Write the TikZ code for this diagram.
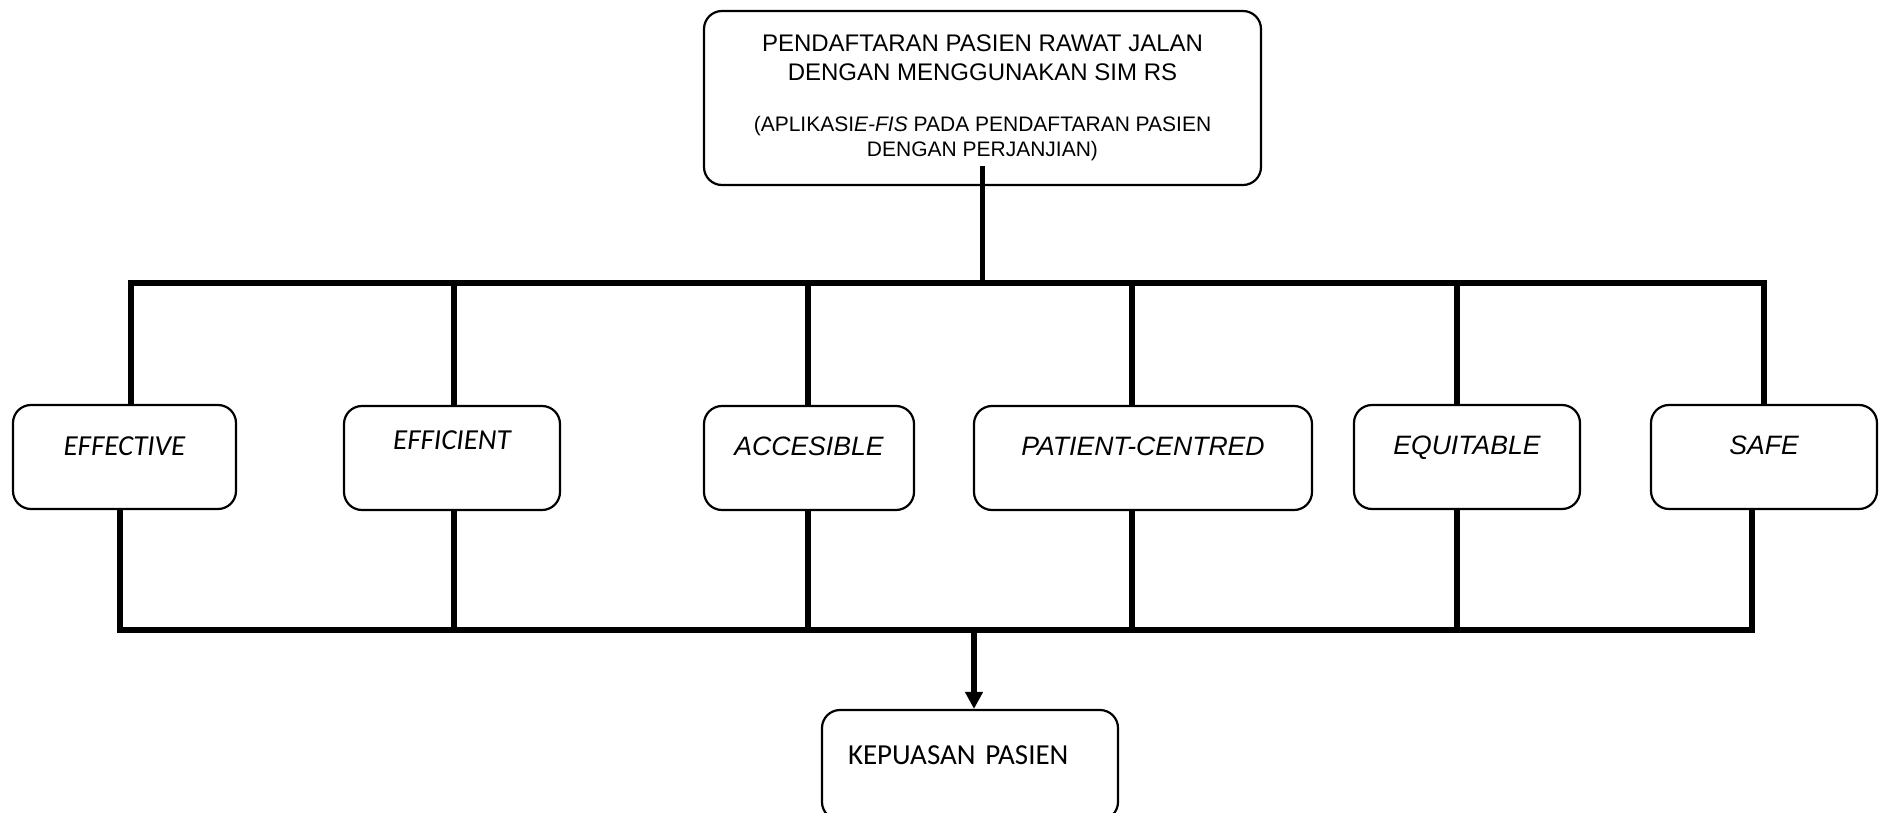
\documentclass[tikz,border=0pt]{standalone}
\usepackage{fontspec}
\setmainfont{Liberation Sans}
\newfontfamily\calfont{Carlito}
\usepackage{tikz}
\usetikzlibrary{arrows.meta}

\begin{document}
\begin{tikzpicture}[x=0.5pt, y=-0.5pt,
        kotak/.style={draw, line width=1.1pt, rounded corners=9pt, inner sep=0pt, align=center},
        aspek/.style={kotak, text height=24.5pt, text depth=27.5pt, font=\fontsize{13.3}{16}\selectfont\itshape},
        garis/.style={line width=2.7pt}]
    \useasboundingbox (0, 0) rectangle (1881, 813);

    % kotak atas
    \node [kotak, minimum width=278.5pt, minimum height=87pt, font=\fontsize{12}{14.5}\selectfont] (daftar) at (982.5, 98)
        {PENDAFTARAN PASIEN RAWAT JALAN\\DENGAN MENGGUNAKAN SIM RS\\[11pt]
         {\fontsize{10.5}{12.5}\selectfont (APLIKASI\textit{E-FIS} PADA PENDAFTARAN PASIEN}\\[-2pt]
         {\fontsize{10.5}{12.5}\selectfont DENGAN PERJANJIAN)}};

    % enam aspek
    \node [aspek, minimum width=111.5pt, text height=25.1pt, text depth=26.9pt, font=\fontsize{14.5}{17}\selectfont\calfont\itshape] (efektif) at (124.5, 457) {EFFECTIVE};
    \node [aspek, minimum width=108pt, text height=21.6pt, text depth=30.4pt, font=\fontsize{14.5}{17}\selectfont\calfont\itshape] (efisien) at (452, 458) {EFFICIENT};
    \node [aspek, minimum width=105pt] (akses) at (809, 458) {ACCESIBLE};
    \node [aspek, minimum width=169pt] (pasien) at (1143, 458) {PATIENT-CENTRED};
    \node [aspek, minimum width=113pt] (adil) at (1467, 457) {EQUITABLE};
    \node [aspek, minimum width=113pt] (aman) at (1764, 457) {SAFE};

    % kotak bawah
    \node [kotak, minimum width=148pt, text width=122pt, inner xsep=13pt, align=left, text height=27.25pt, text depth=27.75pt,
        font=\fontsize{14.5}{17}\selectfont\calfont] (puas) at (970, 765) {KEPUASAN PASIEN};

    \coordinate (a1) at (131, 283);
    \coordinate (a2) at (454, 283);
    \coordinate (a3) at (808, 283);
    \coordinate (a4) at (1132, 283);
    \coordinate (a5) at (1457, 283);
    \coordinate (a6) at (1764, 283);

    \coordinate (b1) at (120, 630);
    \coordinate (b2) at (454, 630);
    \coordinate (b3) at (808, 630);
    \coordinate (b4) at (1132, 630);
    \coordinate (b5) at (1457, 630);
    \coordinate (b6) at (1752, 630);

    % garis atas
    \draw [garis] ([yshift=10pt]daftar.south) -- (daftar.south |- a1);
    \draw [garis] (a1 |- efektif.north) -- (a1) -- (a6) -- (a6 |- aman.north);
    \draw [garis] (a2) -- (a2 |- efisien.north);
    \draw [garis] (a3) -- (a3 |- akses.north);
    \draw [garis] (a4) -- (a4 |- pasien.north);
    \draw [garis] (a5) -- (a5 |- adil.north);

    % garis bawah
    \draw [garis] (b1 |- efektif.south) -- (b1) -- (b6) -- (b6 |- aman.south);
    \draw [garis] (b2 |- efisien.south) -- (b2);
    \draw [garis] (b3 |- akses.south) -- (b3);
    \draw [garis] (b4 |- pasien.south) -- (b4);
    \draw [garis] (b5 |- adil.south) -- (b5);
    \draw [garis, -{Triangle[width=8.5pt, length=8.5pt]}] ([xshift=2pt]puas.north |- b1) -- ([xshift=2pt]puas.north);
\end{tikzpicture}
\end{document}
